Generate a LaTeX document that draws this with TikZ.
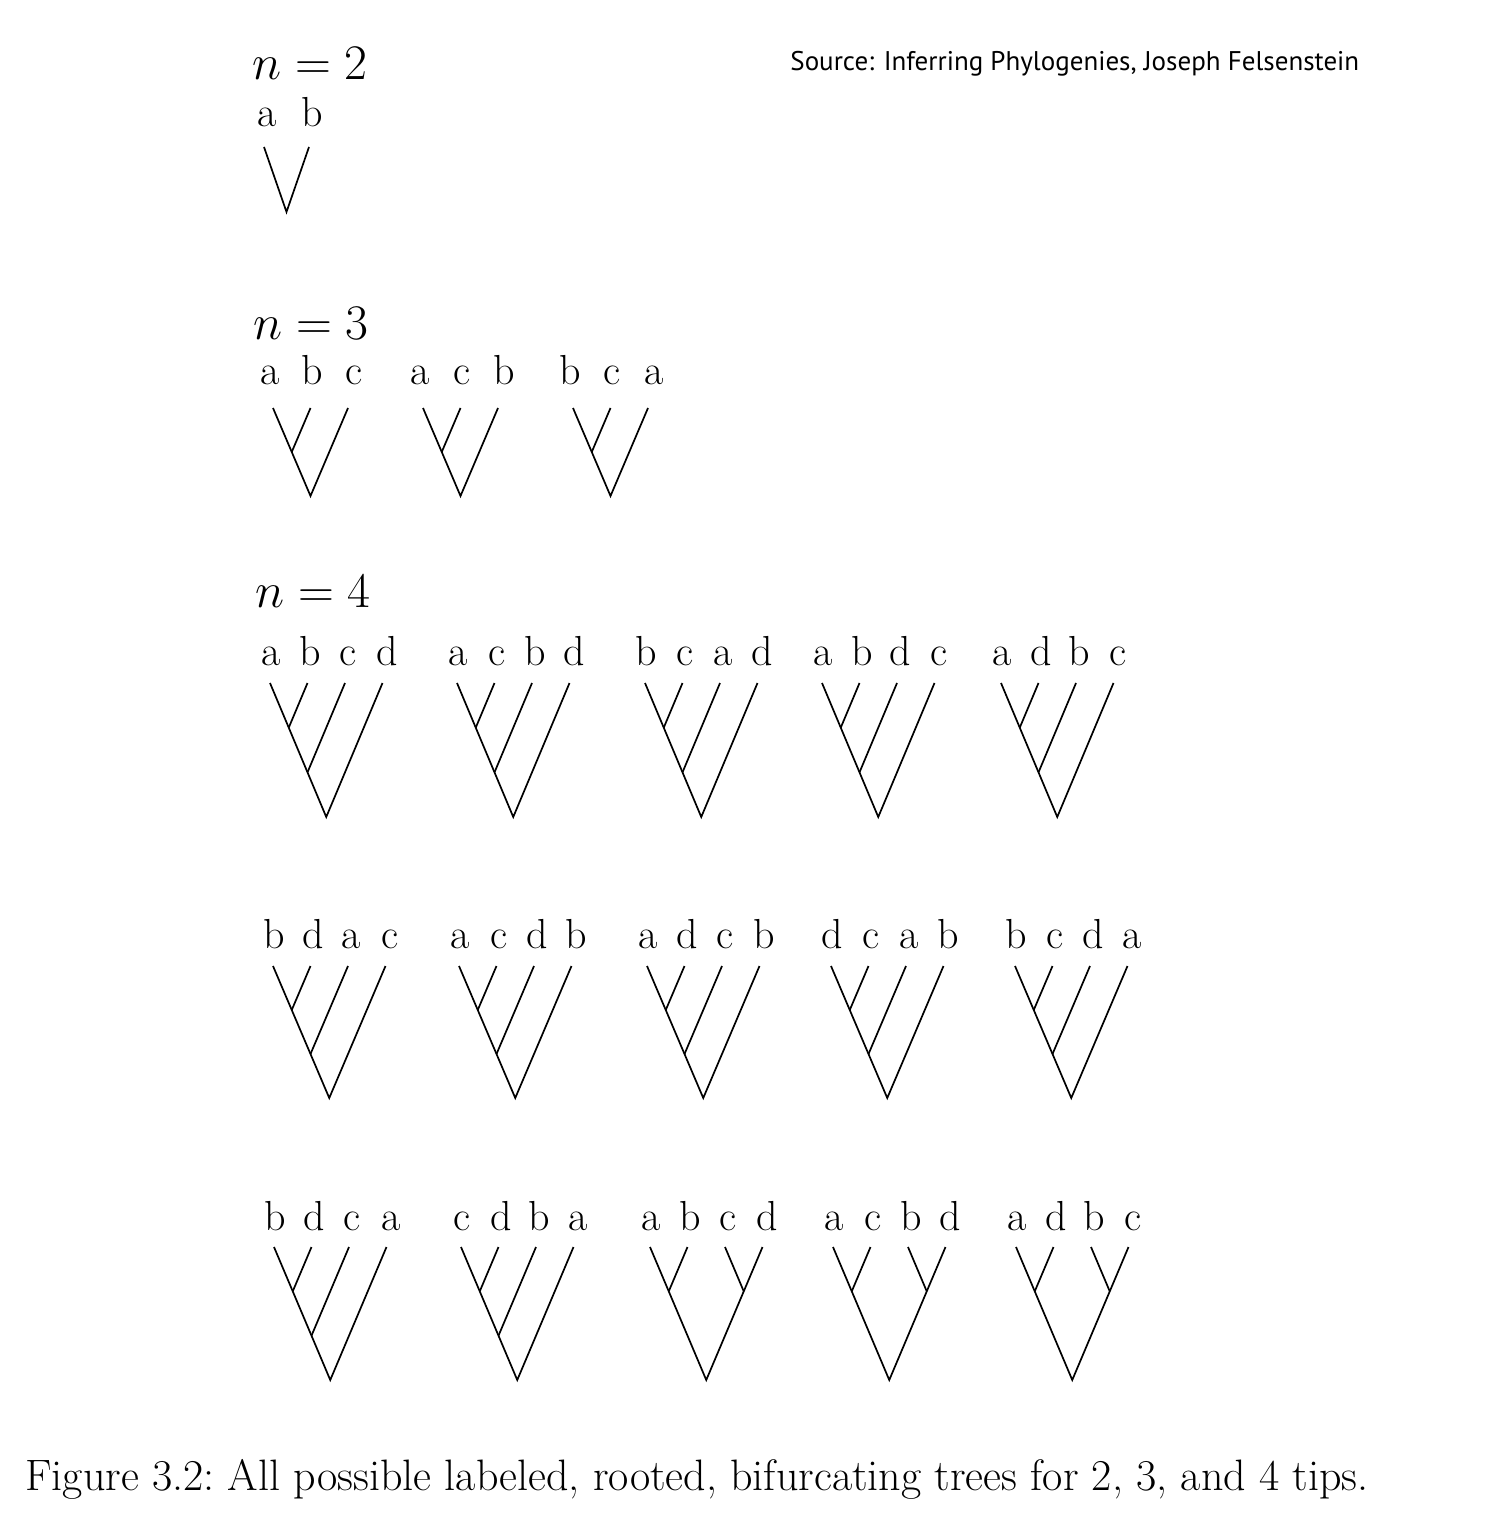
\documentclass[tikz,border=0pt]{standalone}
\usepackage{fontspec}
\newfontfamily\sourcefont{PT Sans}
\usetikzlibrary{calc}

\tikzset{
  branch/.style={line width=0.85pt},
  tiplabel/.style={anchor=base, inner sep=0pt, font=\fontsize{21}{25}\selectfont},
  rowlabel/.style={anchor=base west, inner sep=0pt, font=\fontsize{24}{29}\selectfont},
}

\begin{document}
\begin{tikzpicture}[x=0.5pt, y=-0.5pt]
  \useasboundingbox (0,0) rectangle (1504,1540);

  % Source note, top right
  \node[anchor=base west, inner sep=0pt, font=\sourcefont\fontsize{13.5}{16}\selectfont] (source) at (790,71) {Source: Inferring Phylogenies, Joseph Felsenstein};

  % n = 2
  \node[rowlabel] (ntwo) at (252,80) {$n=2$};
  \node[tiplabel] (two-a) at (267,127) {a};
  \node[tiplabel] (two-b) at (312,127) {b};
  \coordinate (two-tipa) at (264,147);
  \coordinate (two-tipb) at (309,147);
  \coordinate (two-root) at (286.5,212);
  \draw[branch] (two-tipa) -- (two-root) -- (two-tipb);

  % n = 3
  \node[rowlabel] (nthree) at (253,340) {$n=3$};
  \foreach \x/\la/\lb/\lc [count=\k] in {273/a/b/c, 423/a/c/b, 573/b/c/a} {
    \foreach \j/\lab in {0/\la, 1/\lb, 2/\lc} {
      \node[tiplabel] (three-\k-label\j) at (\x+\j*42-2.5, 385) {\lab};
      \coordinate (three-\k-tip\j) at (\x+\j*37.5, 408);
    }
    \coordinate (three-\k-root) at (\x+37.5, 496);
    \coordinate (three-\k-inner) at ($(three-\k-tip0)!.5!(three-\k-root)$);
    \draw[branch] (three-\k-tip0) -- (three-\k-root) -- (three-\k-tip2);
    \draw[branch] (three-\k-tip1) -- (three-\k-inner);
  }

  % n = 4, three rows of five trees (0 = ladder, 1 = two cherries)
  \node[rowlabel] (nfour) at (255,607) {$n=4$};
  \foreach \tipy/\rooty/\laby/\trees [count=\r] in {
      683/817/665/{270/a/b/c/d/0, 457/a/c/b/d/0, 645/b/c/a/d/0, 822/a/b/d/c/0, 1001/a/d/b/c/0},
      966/1098/948/{273/b/d/a/c/0, 459/a/c/d/b/0, 647/a/d/c/b/0, 831/d/c/a/b/0, 1015/b/c/d/a/0},
      1247/1380/1230/{274/b/d/c/a/0, 461/c/d/b/a/0, 650/a/b/c/d/1, 833/a/c/b/d/1, 1016/a/d/b/c/1}} {
    \foreach \x/\la/\lb/\lc/\ld/\kind [count=\k] in \trees {
      \foreach \j/\lab in {0/\la, 1/\lb, 2/\lc, 3/\ld} {
        \node[tiplabel] (four-\r-\k-label\j) at (\x+\j*38.5+1.5, \laby) {\lab};
        \coordinate (four-\r-\k-tip\j) at (\x+\j*37.5, \tipy);
      }
      \coordinate (four-\r-\k-root) at (\x+56.25, \rooty);
      \coordinate (four-\r-\k-inner1) at ($(four-\r-\k-tip0)!1/3!(four-\r-\k-root)$);
      \ifnum\kind=0
        \coordinate (four-\r-\k-inner2) at ($(four-\r-\k-tip0)!2/3!(four-\r-\k-root)$);
      \else
        \coordinate (four-\r-\k-inner2) at ($(four-\r-\k-tip3)!1/3!(four-\r-\k-root)$);
      \fi
      \draw[branch] (four-\r-\k-tip0) -- (four-\r-\k-root) -- (four-\r-\k-tip3);
      \draw[branch] (four-\r-\k-tip1) -- (four-\r-\k-inner1);
      \draw[branch] (four-\r-\k-tip2) -- (four-\r-\k-inner2);
    }
  }

  % Caption
  \node[anchor=base west, inner sep=0pt, font=\fontsize{22}{26}\selectfont] (caption) at (25,1490) {Figure 3.2:\ All possible labeled, rooted, bifurcating trees for 2, 3, and 4 tips.};
\end{tikzpicture}
\end{document}
